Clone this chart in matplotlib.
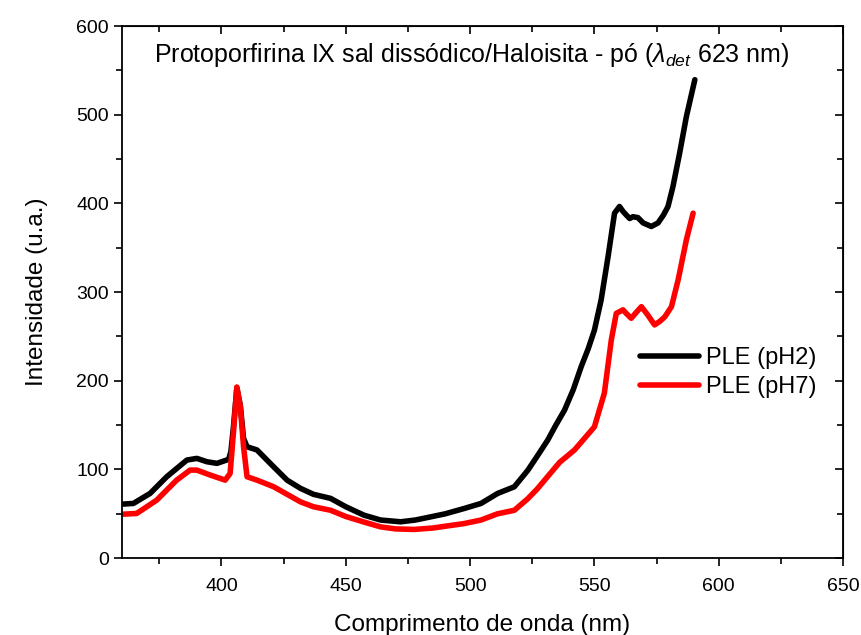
import matplotlib
matplotlib.use("Agg")
import matplotlib.pyplot as plt
from matplotlib.ticker import MultipleLocator

plt.rcParams['font.family'] = ['Liberation Sans', 'DejaVu Sans']
plt.rcParams['mathtext.fontset'] = 'custom'
plt.rcParams['mathtext.rm'] = 'Liberation Sans'
plt.rcParams['mathtext.it'] = 'Liberation Sans:italic'

# PLE (pH2)
wl_ph2 = [360.5, 364.6, 371.3, 378.0, 386.1, 390.1, 394.2, 398.2, 402.9, 403.8, 404.9,
          406.2, 407.6, 408.9, 410.3, 414.3, 421.0, 426.4, 431.8, 437.0, 443.9, 450.0,
          457.3, 464.0, 472.1, 478.0, 484.2, 490.0, 497.6, 504.4, 511.1, 517.8, 523.2,
          527.0, 531.2, 534.5, 538.0, 541.5, 544.7, 547.5, 550.0, 552.7, 555.5, 558.1,
          560.1, 561.5, 562.8, 564.2, 565.5, 567.5, 569.6, 572.9, 575.6, 577.8, 579.6,
          581.6, 584.3, 587.0, 590.4]
int_ph2 = [61, 61.7, 73, 91.8, 110.6, 112.5, 108.7, 106.9, 111.4, 120, 150,
           192, 172, 135, 125.6, 122, 103, 88, 78.7, 72, 67.4, 58,
           48.5, 43, 41, 43, 46.6, 50, 56, 61.7, 73, 80.5, 99,
           115, 133, 150, 167, 190, 216, 236, 257, 291, 340, 389,
           396.5, 391, 387, 383, 385, 384, 378, 374, 378, 387, 396.5,
           419, 457, 498, 539.5]

# PLE (pH7)
wl_ph7 = [360.5, 365.9, 374.0, 382.0, 387.4, 390.1, 395.5, 401.5, 403.5, 404.9, 406.2,
          407.6, 408.9, 410.3, 414.3, 421.0, 431.8, 437.0, 443.9, 450.0, 457.0, 464.0,
          470.0, 477.5, 485.0, 490.0, 497.6, 504.4, 511.0, 517.8, 523.2, 527.0, 531.2,
          536.0, 542.0, 546.0, 550.0, 554.0, 556.8, 558.8, 561.5, 562.8, 564.8, 566.8,
          568.9, 571.5, 574.2, 576.3, 578.3, 581.0, 583.7, 587.0, 589.7]
int_ph7 = [49.6, 50.4, 65.5, 88, 99.3, 99.3, 93.7, 88, 95.6, 144, 193,
           171, 125.6, 91.8, 88, 80.5, 63.5, 58, 54, 47, 41, 35.3,
           33, 32.4, 34, 36, 39, 43, 50, 54, 67, 78, 92,
           108, 122, 135, 148, 186, 246, 276, 280, 276, 270.5, 277,
           283.6, 274, 263, 267, 272, 283.6, 314, 359, 389]

fig = plt.figure(figsize=(8.62, 6.35), dpi=100)
ax = fig.add_axes([0.1415, 0.121, 0.8365, 0.838])

ax.plot(wl_ph2, int_ph2, color='black', lw=4, label='PLE (pH2)', solid_capstyle='round')
ax.plot(wl_ph7, int_ph7, color='#ff0000', lw=4, label='PLE (pH7)', solid_capstyle='round')

ax.set_xlim(360, 650)
ax.set_ylim(0, 600)
ax.xaxis.set_major_locator(MultipleLocator(50))
ax.xaxis.set_minor_locator(MultipleLocator(25))
ax.yaxis.set_major_locator(MultipleLocator(100))
ax.yaxis.set_minor_locator(MultipleLocator(50))

ax.tick_params(which='both', direction='out', width=1.2, labelsize=14, top=False, right=False)
ax.tick_params(which='major', length=6)
ax.tick_params(which='minor', length=4)
ax.tick_params(axis='x', pad=8)
for sp in ax.spines.values():
    sp.set_linewidth(1.3)

# mirrored inward ticks on top and right
secx = ax.secondary_xaxis('top')
secx.xaxis.set_major_locator(MultipleLocator(50))
secx.xaxis.set_minor_locator(MultipleLocator(25))
secx.tick_params(which='both', direction='in', labeltop=False, width=1.2)
secx.tick_params(which='major', length=6)
secx.tick_params(which='minor', length=4)
secy = ax.secondary_yaxis('right')
secy.yaxis.set_major_locator(MultipleLocator(100))
secy.yaxis.set_minor_locator(MultipleLocator(50))
secy.tick_params(which='both', direction='in', labelright=False, width=1.2)
secy.tick_params(which='major', length=6)
secy.tick_params(which='minor', length=4)

ax.set_xlabel('Comprimento de onda (nm)', fontsize=17.5, labelpad=14)
ax.set_ylabel('Intensidade (u.a.)', fontsize=17.5, labelpad=20)

ax.text(0.485, 0.945, r'Protoporfirina IX sal dissódico/Haloisita - pó ($\lambda_{det}$ 623 nm)',
        transform=ax.transAxes, ha='center', va='center', fontsize=18)

ax.legend(loc='upper left', bbox_to_anchor=(0.705, 0.415), frameon=False, fontsize=17,
          handlelength=2.5, handletextpad=0.3, labelspacing=0.3, borderaxespad=0)

fig.savefig('out.png', dpi=100)
